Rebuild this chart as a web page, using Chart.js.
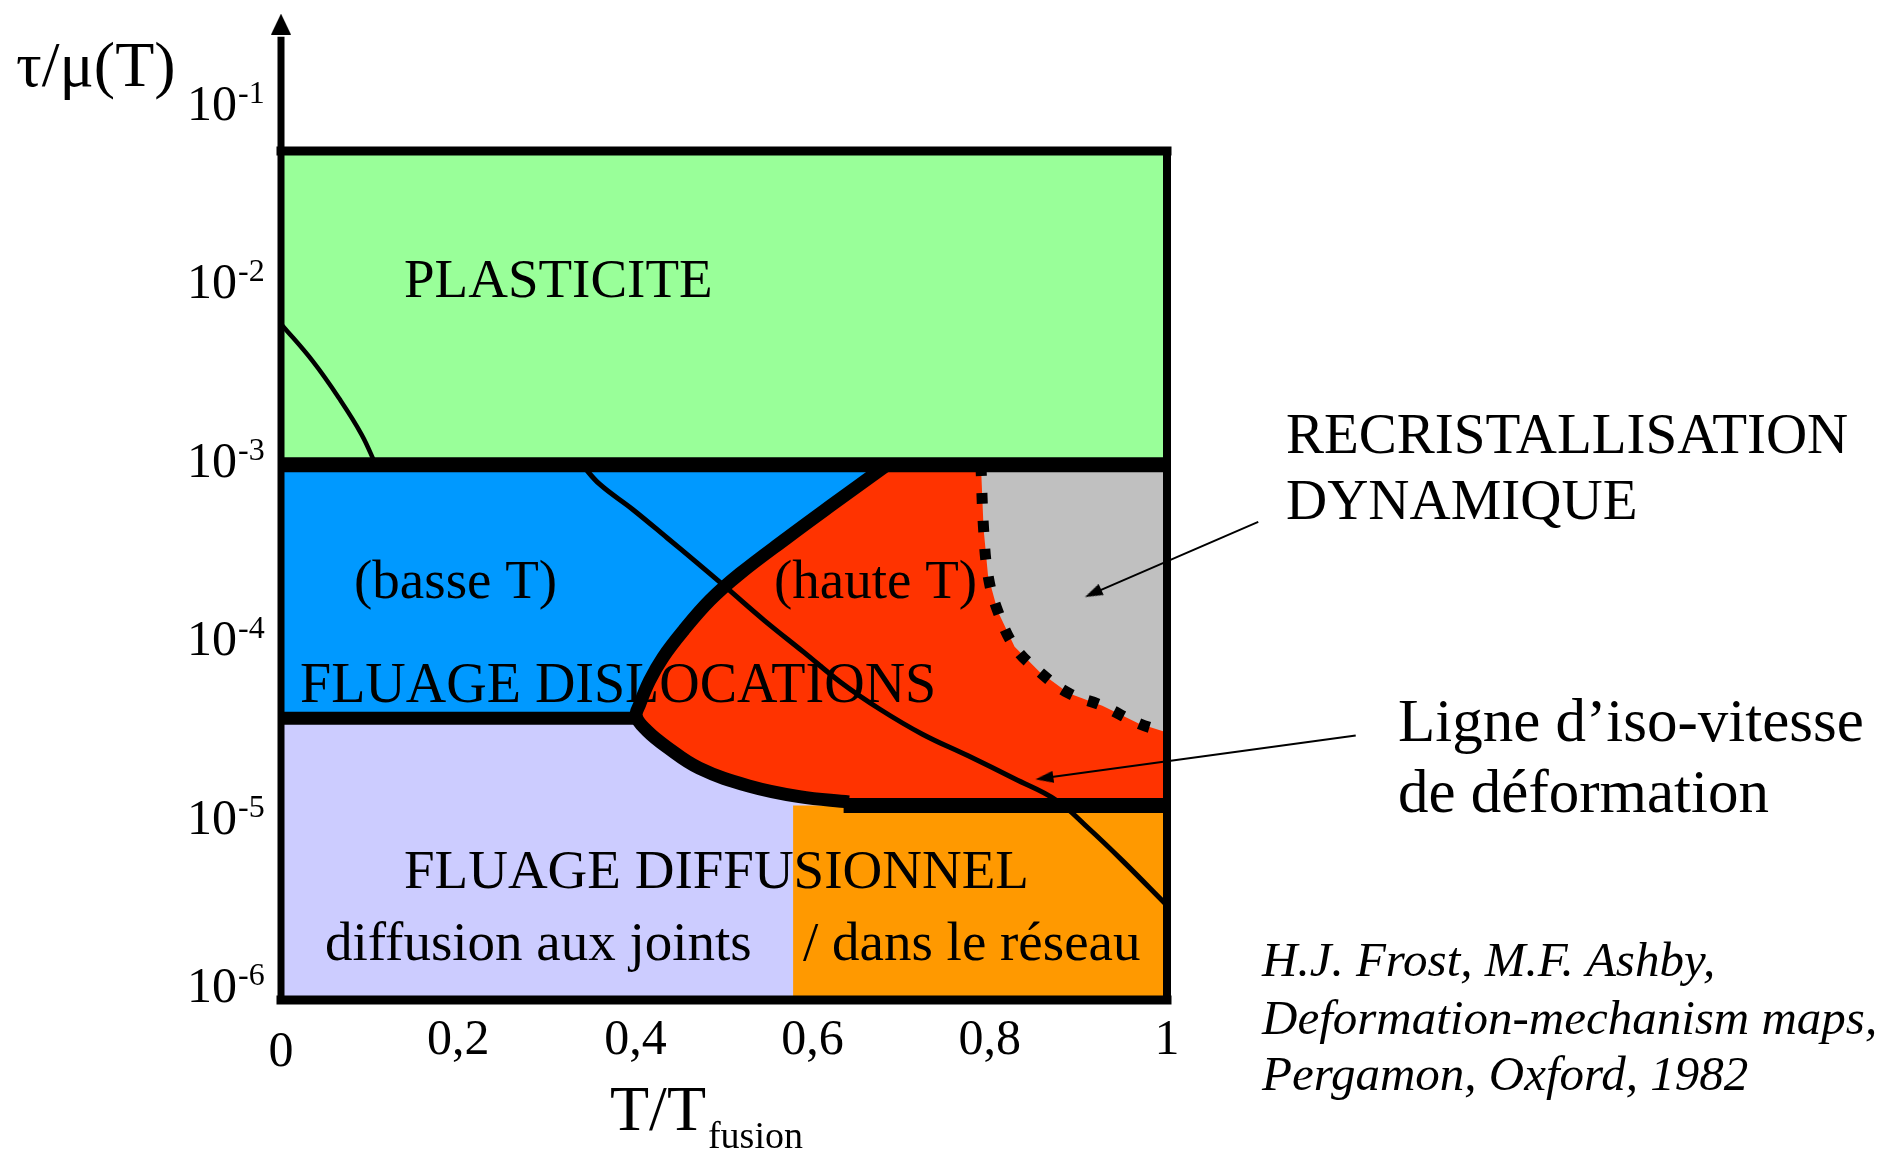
<!DOCTYPE html>
<html>
<head>
<meta charset="utf-8">
<title>Carte des mécanismes de déformation</title>
<script src="https://cdn.jsdelivr.net/npm/chart.js@4.4.1/dist/chart.umd.min.js"></script>
<style>
  html, body { margin: 0; padding: 0; background: #fff; }
  #wrap { width: 1891px; height: 1152px; position: relative; }
</style>
</head>
<body>
<div id="wrap"><canvas id="map"></canvas></div>
<script>
// ticks des axes
const xTicks = [0, 0.2, 0.4, 0.6, 0.8, 1];
const xTickLabels = ['0', '0,2', '0,4', '0,6', '0,8', '1'];
const yTicks = [1e-1, 1e-2, 1e-3, 1e-4, 1e-5, 1e-6];
const yTickExponents = ['-1', '-2', '-3', '-4', '-5', '-6'];

// frontières horizontales (log10 de tau/mu)
const yBottomLog = -6;
const yTopLog = -1.24;
const plastLog = -3;
const dislocLog = -4.42;
const hauteTLog = -4.91;
const lowTEnd = 0.40;
const diffBoundaryT = 0.578;
const hauteTBottomStart = 0.635;

// petite courbe dans la plasticité
const plastCurveT = [0, 0.036, 0.066, 0.091, 0.107];
const plastCurveLog = [-2.21, -2.42, -2.63, -2.83, -3.0];

// frontière du fluage haute T (trait épais)
const hotCurveT = [0.684, 0.623, 0.571, 0.518, 0.484, 0.454, 0.431, 0.416, 0.405, 0.401, 0.413, 0.435, 0.472, 0.528, 0.585, 0.641];
const hotCurveLog = [-3.0, -3.22, -3.41, -3.61, -3.76, -3.93, -4.08, -4.21, -4.34, -4.41, -4.49, -4.58, -4.70, -4.80, -4.86, -4.89];

// limite de la recristallisation dynamique (pointillés)
const recrystT = [0.79, 0.793, 0.798, 0.809, 0.828, 0.856, 0.889, 0.927, 0.968, 1.0];
const recrystLog = [-3.0, -3.36, -3.62, -3.82, -4.02, -4.16, -4.28, -4.35, -4.45, -4.50];

// ligne d'iso-vitesse de déformation
const isoT = [0.34, 0.36, 0.397, 0.436, 0.465, 0.503, 0.545, 0.59, 0.632, 0.676, 0.724, 0.775, 0.828, 0.875, 0.912, 0.95, 1.0];
const isoLog = [-3.0, -3.11, -3.25, -3.41, -3.53, -3.69, -3.87, -4.05, -4.22, -4.37, -4.51, -4.63, -4.76, -4.88, -5.04, -5.22, -5.47];

// flèches des légendes (départ, pointe)
const recrystArrowT = [1.103, 0.9165];
const recrystArrowLog = [-3.32, -3.72];
const isoArrowT = [1.213, 0.8616];
const isoArrowLog = [-4.517, -4.756];

const pt = (t, lg) => ({ x: t, y: Math.pow(10, lg) });
const pts = (ts, logs) => ts.map((t, i) => pt(t, logs[i]));

// pointe de flèche dessinée dans un petit canvas, orientée vers le haut
function arrowImage(w, h) {
    const c = document.createElement('canvas');
    c.width = w;
    c.height = h;
    const g = c.getContext('2d');
    g.fillStyle = '#000';
    g.beginPath();
    g.moveTo(w / 2, 0);
    g.lineTo(w, h);
    g.lineTo(0, h);
    g.closePath();
    g.fill();
    return c;
}

function area(data, color, order) {
    return {
        data, order,
        showLine: true, fill: 'shape', backgroundColor: color,
        borderWidth: 0, borderColor: 'rgba(0,0,0,0)',
        pointRadius: 0, tension: 0, clip: false
    };
}

function stroke(data, width, order, extra) {
    return Object.assign({
        data, order,
        showLine: true, fill: false, borderColor: '#000', borderWidth: width,
        pointRadius: 0, tension: 0, clip: false
    }, extra || {});
}

function head(p, img, rotation, order) {
    return {
        data: [p], order, showLine: false,
        pointStyle: img, pointRadius: 10, rotation,
        backgroundColor: '#000', borderWidth: 0, clip: false
    };
}

const axisHead = arrowImage(20, 21);
const calloutHead = arrowImage(12, 18);

const datasets = [
    // zones colorées
    area([pt(0, yBottomLog), pt(1, yBottomLog), pt(1, dislocLog), pt(0, dislocLog)], '#ccccff', 100),
    area([pt(diffBoundaryT, yBottomLog), pt(1, yBottomLog), pt(1, hauteTLog), pt(diffBoundaryT, hauteTLog)], '#ff9900', 99),
    area([pt(0, dislocLog), pt(1, dislocLog), pt(1, plastLog), pt(0, plastLog)], '#0099ff', 98),
    area(pts(hotCurveT, hotCurveLog).concat([pt(hauteTBottomStart, hauteTLog), pt(1, hauteTLog), pt(1, plastLog)]), '#ff3300', 97),
    area(pts(recrystT, recrystLog).concat([pt(1, plastLog)]), '#c0c0c0', 96),
    area([pt(0, plastLog), pt(1, plastLog), pt(1, yTopLog), pt(0, yTopLog)], '#99ff99', 95),

    // frontières
    stroke(pts(plastCurveT, plastCurveLog), 4.5, 30, { tension: 0.4 }),
    stroke([pt(0, dislocLog), pt(lowTEnd, dislocLog)], 13, 29),
    stroke(pts(isoT, isoLog), 5, 28, { tension: 0.4 }),
    stroke(pts(recrystT, recrystLog), 11, 27, { tension: 0.4, borderDash: [11, 17] }),
    stroke(pts(hotCurveT, hotCurveLog), 13, 26, { tension: 0.4 }),
    stroke([pt(hauteTBottomStart, hauteTLog), pt(1, hauteTLog)], 15, 25),
    stroke([pt(0, plastLog), pt(1, plastLog)], 15, 24),

    // cadre et axe
    stroke([pt(0, yTopLog), pt(1, yTopLog)], 9, 20, { borderCapStyle: 'square' }),
    stroke([pt(1, yTopLog), pt(1, yBottomLog)], 8, 19, { borderCapStyle: 'square' }),
    stroke([pt(0, yBottomLog), pt(1, yBottomLog)], 9, 18, { borderCapStyle: 'square' }),
    stroke([pt(0, yBottomLog), pt(0, -0.6)], 7, 17),
    head(pt(0, -0.529), axisHead, 0, 16),

    // flèches des légendes
    stroke(pts(recrystArrowT, recrystArrowLog), 2, 15),
    head(pt(recrystArrowT[1], recrystArrowLog[1]), calloutHead, 245, 14),
    stroke(pts(isoArrowT, isoArrowLog), 2, 13),
    head(pt(isoArrowT[1], isoArrowLog[1]), calloutHead, 262, 12)
];

const SERIF = '"Liberation Serif", "Times New Roman", serif';

const regionLabels = [
    { text: 'PLASTICITE', x: 404, y: 297, size: 55 },
    { text: '(basse T)', x: 354, y: 598, size: 55 },
    { text: '(haute T)', x: 774, y: 598, size: 55 },
    { text: 'FLUAGE DISLOCATIONS', x: 300, y: 702, size: 56 },
    { text: 'FLUAGE DIFFUSIONNEL', x: 404, y: 888, size: 55 },
    { text: 'diffusion aux joints', x: 325, y: 960, size: 55 },
    { text: '/ dans le réseau', x: 803, y: 960, size: 55 }
];

const sideLabels = [
    { text: 'RECRISTALLISATION', x: 1286, y: 453, size: 57 },
    { text: 'DYNAMIQUE', x: 1286, y: 519, size: 57 },
    { text: 'Ligne d’iso-vitesse', x: 1398, y: 741, size: 61 },
    { text: 'de déformation', x: 1398, y: 812, size: 61 }
];

const citation = [
    { text: 'H.J. Frost, M.F. Ashby,', x: 1262, y: 976 },
    { text: 'Deformation-mechanism maps,', x: 1262, y: 1034 },
    { text: 'Pergamon, Oxford, 1982', x: 1262, y: 1090 }
];

const mapText = {
    id: 'mapText',
    beforeDatasetsDraw(chart) {
        // textes des domaines, sous les frontières
        const ctx = chart.ctx;
        ctx.save();
        ctx.fillStyle = '#000';
        ctx.textBaseline = 'alphabetic';
        ctx.textAlign = 'left';
        regionLabels.forEach(l => {
            ctx.font = l.size + 'px ' + SERIF;
            ctx.fillText(l.text, l.x, l.y);
        });
        ctx.restore();
    },
    afterDraw(chart) {
        const ctx = chart.ctx;
        const xs = chart.scales.x;
        const ys = chart.scales.y;
        const bottom = chart.chartArea.bottom;
        ctx.save();
        ctx.fillStyle = '#000';
        ctx.textBaseline = 'alphabetic';

        // graduations y : 10 puissance n
        ctx.textAlign = 'left';
        yTicks.forEach((v, i) => {
            const py = Math.min(ys.getPixelForValue(v) + 12, bottom + 2);
            ctx.font = '50px ' + SERIF;
            ctx.fillText('10', 187, py);
            const w = ctx.measureText('10').width;
            ctx.font = '32px ' + SERIF;
            ctx.fillText(yTickExponents[i], 187 + w + 1, py - 17);
        });

        // graduations x
        ctx.textAlign = 'center';
        ctx.font = '50px ' + SERIF;
        xTicks.forEach((v, i) => {
            const py = i === 0 ? 1066 : 1054;
            ctx.fillText(xTickLabels[i], xs.getPixelForValue(v), py);
        });

        // titres des axes
        ctx.textAlign = 'left';
        ctx.font = '64px ' + SERIF;
        ctx.fillText('τ/μ(T)', 16, 86);
        ctx.font = '64px ' + SERIF;
        ctx.fillText('T/T', 610, 1130);
        const tw = ctx.measureText('T/T').width;
        ctx.font = '38px ' + SERIF;
        ctx.fillText('fusion', 612 + tw, 1148);

        // légendes à droite
        sideLabels.forEach(l => {
            ctx.font = l.size + 'px ' + SERIF;
            ctx.fillText(l.text, l.x, l.y);
        });

        // référence
        ctx.font = 'italic 49px ' + SERIF;
        citation.forEach(l => ctx.fillText(l.text, l.x, l.y));
        ctx.restore();
    }
};

new Chart(document.getElementById('map'), {
    type: 'scatter',
    data: { datasets },
    options: {
        responsive: true,
        maintainAspectRatio: false,
        animation: false,
        events: [],
        layout: { padding: { left: 281, right: 724, top: 8, bottom: 152 } },
        plugins: {
            legend: { display: false },
            tooltip: { enabled: false },
            filler: { drawTime: 'beforeDatasetsDraw' }
        },
        scales: {
            x: { type: 'linear', min: 0, max: 1, display: false },
            y: { type: 'logarithmic', min: 1e-6, max: Math.pow(10, -0.45), display: false }
        }
    },
    plugins: [mapText]
});
</script>
</body>
</html>
